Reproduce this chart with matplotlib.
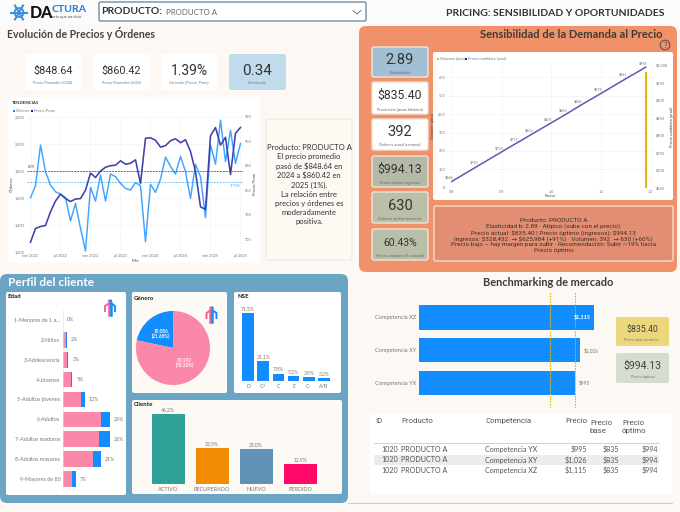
import numpy as np
import matplotlib
matplotlib.use("Agg")
import matplotlib.pyplot as plt
from matplotlib.patches import FancyBboxPatch, Circle, Rectangle

# ---------- data ----------
months = ["ene 2022", "jul 2022", "ene 2023", "jul 2023", "ene 2024", "jul 2024", "ene 2025", "jul 2025"]
orders = [1600, 1689, 1990, 1793, 1694, 1644, 1627, 1600, 1427, 1558, 1373, 1205, 1677, 1575, 1768, 1575,
          1775, 1756, 1706, 1669, 1657, 1711, 1689, 1274, 1699, 1640, 1738, 1901, 1832, 1775, 1906, 1793,
          1595, 1847, 1756, 1452, 1990, 1849, 2175, 1867, 2099, 1854, 2002]
prices = [694, 722, 726, 728, 756, 778, 792, 783, 777, 782, 783, 800, 835, 826, 839, 847, 850, 851, 860,
          853, 855, 862, 814, 906, 907, 902, 888, 891, 901, 905, 897, 903, 879, 838, 766, 761, 911, 928,
          892, 908, 832, 916, 928]
orders_mean = 1716
prices_mean = 839

kpi_top_vals = ["$848.64", "$860.42", "1.39%", "0.34"]
kpi_top_labs = ["Precio Promedio (2024)", "Precio Promedio (2025)", "Variación (Precio, Prom)", "Correlación"]
summary_text = ("Producto: PRODUCTO A\nEl precio promedio\npasó de $848.64 en\n2024 a $860.42 en\n2025 (1%).\n"
                "La relación entre\nprecios y órdenes es\nmoderadamente\npositiva.")

kpi_side_vals = ["2.89", "$835.40", "392", "$994.13", "630", "60.43%"]
kpi_side_labs = ["Elasticidad b", "Precio base (prom histórico)", "Órdenes actual (semanal)",
                 "Precio óptimo (ingresos)", "Órdenes óptimo (semanal)", "Mejora volumen (% semanal)"]
sens_factor = [0.80, 0.85, 0.90, 0.93, 0.96, 1.00, 1.03, 1.06, 1.10, 1.15, 1.19]
sens_price = [668, 710, 752, 777, 802, 835, 860, 886, 919, 961, 994]
sens_labels = ["$668", "$710", "$752", "$777", "$802", "$835", "$860", "$886", "$919", "$961", "$994"]
opt_factor = 1.19
opt_volume = 630
sens_text = ("Producto: PRODUCTO A\nElasticidad b: 2.89 · Atípico (sube con el precio)\n"
             "Precio actual: $835.40 | Precio óptimo (ingresos): $994.13\n"
             "Ingresos: $328,432  → $625,984 (+91%) · Volumen: 392  → 630 (+60%)\n"
             "Precio bajo – hay margen para subir · Recomendación: Subir ~19% hacia\nPrecio óptimo")

age_labels = ["1-Menores de 1 a...", "2-Niños", "3-Adolescencia", "4-Jóvenes", "5-Adultos jóvenes", "6-Adultos",
              "7-Adultos maduros", "8-Adultos mayores", "9-Mayores de 80"]
age_pink = [0, 1.4, 2.2, 4.2, 10.2, 20.8, 20.1, 16.6, 5.1]
age_blue = [0, 0.6, 0.8, 0.8, 1.8, 5.2, 5.9, 4.4, 1.9]
age_total = ["0%", "2%", "3%", "5%", "12%", "26%", "26%", "21%", "7%"]

gender_share = [21.68, 78.32]
gender_labels = ["19,086\n(21.68%)", "70,192\n(78.32%)"]

nse_labels = ["D", "C+", "C", "E", "C-", "A/B"]
nse_vals = [71.5, 21.1, 7.8, 5.2, 3.9, 3.2]

client_labels = ["ACTIVO", "RECUPERADO", "NUEVO", "PERDIDO"]
client_vals = [46.2, 23.5, 23.0, 12.9]
client_colors = ["#2fa198", "#f28c05", "#6092b8", "#ff0a68"]

comp_labels = ["Competencia YX", "Competencia XY", "Competencia XZ"]
comp_vals = [995, 1026, 1115]
base_price = 835.40
opt_price = 994.13

table_head = ["ID", "Producto", "Competencia", "Precio", "Precio\nbase", "Precio\nóptimo"]
table_rows = [["1020", "PRODUCTO A", "Competencia YX", "$995", "$835", "$994"],
              ["1020", "PRODUCTO A", "Competencia XY", "$1,026", "$835", "$994"],
              ["1020", "PRODUCTO A", "Competencia XZ", "$1,115", "$835", "$994"]]

# ---------- helpers ----------
W, H = 680, 512
BLUE = "#118dff"
PINK = "#fb88a8"
GREY = "#777777"
DARK = "#3a3a3a"
TITLE = "Lato"
NUM = "Roboto"
plt.rcParams["font.family"] = ["Lato", "DejaVu Sans"]

fig = plt.figure(figsize=(6.8, 5.12), dpi=100, facecolor="#fdf8f3")
bg = fig.add_axes([0, 0, 1, 1], zorder=0)
bg.set_xlim(0, W)
bg.set_ylim(H, 0)
bg.axis("off")


def card(x0, y0, x1, y1, fc="white", ec="none", r=2.0, lw=0.0, z=1):
    bg.add_patch(FancyBboxPatch((x0 + r, y0 + r), x1 - x0 - 2 * r, y1 - y0 - 2 * r,
                                boxstyle=f"round,pad={r},rounding_size={r}", fc=fc, ec=ec, lw=lw, zorder=z))


def txt(x, y, s, size=5, color=DARK, ha="left", va="center", weight="normal", family=None, z=5, **kw):
    return bg.text(x, y, s, fontsize=size, color=color, ha=ha, va=va, fontweight=weight,
                   family=family or TITLE, zorder=z, parse_math=False, **kw)


def ax_px(x0, y0, x1, y1):
    ax = fig.add_axes([x0 / W, 1 - y1 / H, (x1 - x0) / W, (y1 - y0) / H], zorder=2)
    ax.patch.set_alpha(0)
    for s in ax.spines.values():
        s.set_visible(False)
    return ax


def person(cx, cy, scale=1.0):
    h = 8 * scale
    bg.add_patch(Circle((cx - 1.0 * scale, cy - h), 1.5 * scale, fc="#f0628f", ec="none", zorder=5))
    bg.add_patch(Circle((cx + 1.0 * scale, cy - h), 1.5 * scale, fc=BLUE, ec="none", zorder=5))
    bg.plot([cx - 1.2 * scale, cx - 1.2 * scale], [cy - h + 2, cy + h], color="#f0628f", lw=1.8, zorder=5)
    bg.plot([cx + 1.0 * scale, cx + 1.0 * scale], [cy - h + 2, cy + h], color=BLUE, lw=1.8, zorder=5)
    bg.plot([cx - 1, cx - 5.5 * scale, cx - 5.5 * scale], [cy - h + 2.5, cy - 2, cy + 3], color="#f0628f", lw=1.4, zorder=5)
    bg.plot([cx + 1, cx + 5.5 * scale, cx + 5.5 * scale], [cy - h + 2.5, cy - 2, cy + 3], color=BLUE, lw=1.4, zorder=5)


# ---------- header ----------
bg.add_patch(Rectangle((0, 0), W, 25, fc="#fbfbfb", ec="none", zorder=0.5))
cx, cy = 19, 12.5
for a in np.deg2rad([0, 60, 120]):
    bg.plot([cx - 8 * np.cos(a), cx + 8 * np.cos(a)], [cy - 8 * np.sin(a), cy + 8 * np.sin(a)],
            color="#3d8fd8", lw=1.5, zorder=3)
bg.add_patch(Circle((cx, cy), 4.5, fc="none", ec="#3d8fd8", lw=1.3, zorder=3))
txt(30, 13, "DA", 11.5, "#111111", weight="black")
txt(51.5, 9.5, "CTURA", 7.5, "#2a86d8", weight="black")
txt(52, 17, "más que un dato", 3, "#555555")
card(99, 2, 366, 21, fc="white", ec="#5f7f9a", lw=0.9, r=1.5)
txt(101, 12, "PRODUCTO:", 7.5, "#333333", weight="bold")
txt(166, 12.5, "PRODUCTO A", 5.7, "#666666")
bg.plot([353, 357, 361], [10.5, 14, 10.5], color="#777777", lw=0.7, zorder=5)
txt(665, 13, "PRICING: SENSIBILIDAD Y OPORTUNIDADES", 7.5, "#333333", ha="right", weight="bold")

# ---------- panels ----------
bg.plot([348, 672], [503, 503], color="#c4c4c4", lw=0.6, zorder=0.6)
card(359, 26, 677, 272, fc="#f0916a", r=7)
card(0, 274, 348, 503, fc="#6aa5c5", r=7)
txt(7, 34, "Evolución de Precios y Órdenes", 7.6, "#444444", weight="bold")

# ---------- top KPI cards ----------
kx = [(25, 81), (93, 150), (161, 217), (229, 286)]
ksize = [7.8, 7.8, 10, 11]
kfc = ["white", "white", "white", "#c0dcec"]
for (x0, x1), v, l, s, c in zip(kx, kpi_top_vals, kpi_top_labs, ksize, kfc):
    card(x0, 54, x1, 90, fc=c)
    txt((x0 + x1) / 2, 71, v, s, "#333333", ha="center", family=NUM)
    txt((x0 + x1) / 2, 82.5, l, 2.7, "#777777", ha="center")

# ---------- trend chart ----------
card(8, 97, 260, 263)
txt(12, 103.3, "TENDENCIAS", 3.2, "#333333", weight="bold")
bg.add_patch(Rectangle((13, 109.5), 2, 2, fc=BLUE, zorder=5))
txt(16, 110.5, "Órdenes", 2.8, GREY)
bg.add_patch(Rectangle((31, 109.5), 2, 2, fc="#12239e", zorder=5))
txt(34, 110.5, "Precio Prom", 2.8, GREY)
t = np.arange(len(orders))
ax = ax_px(27, 116.7, 243, 251.7)
ax.set_xlim(-0.7, 42.5)
ax.set_ylim(1200, 2200)
ax.plot(t, orders, color="#3fa4ff", lw=1.05, zorder=3)
ax.axhline(orders_mean, color="#7cc2f5", lw=0.7, ls=(0, (2, 1)), zorder=2)
ax.set_xticks(np.arange(0, 43, 6))
ax.set_xticklabels(months, fontsize=2.8, color=GREY)
ax.set_yticks([1200, 1400, 1600, 1800, 2000, 2200])
ax.set_yticklabels(["1,200", "1,400", "1,600", "1,800", "2,000", "2,200"], fontsize=2.8, color=GREY)
ax.tick_params(length=0, pad=1.5)
ax.grid(True, color="#e9e9e9", lw=0.45, ls=(0, (1, 1)))
ax.set_xlabel("Mes", fontsize=3, color="#444444", labelpad=1)
ax.set_ylabel("Órdenes", fontsize=3, color="#444444", labelpad=1)
ax2 = ax.twinx()
ax2.patch.set_alpha(0)
for s in ax2.spines.values():
    s.set_visible(False)
ax2.set_ylim(950 - (251.7 - 116.7) * 3 * 0.68, 950)
ax2.plot(t, prices, color="#4040aa", lw=1.15, zorder=4)
ax2.axhline(prices_mean, color="#6a62b8", lw=0.7, ls=(0, (2, 1)), zorder=2)
ax2.set_yticks([700, 750, 800, 850, 900, 950])
ax2.set_yticklabels(["700", "750", "800", "850", "900", "950"], fontsize=2.8, color=GREY)
ax2.tick_params(length=0, pad=1.5)
ax2.set_ylabel("Precio Prom", fontsize=3, color="#444444", labelpad=1, rotation=90)
txt(28, 167.5, "839", 3, "#4a4aa8")
txt(241, 186, "1.71K", 3, "#3fa4ff", ha="right")

card(266, 119, 352, 260, fc="#fdfaf4", ec="#e8e4dc", lw=0.6)
txt(309, 184.5, summary_text, 5.5, "#333333", ha="center", linespacing=1.36)

# ---------- sensitivity ----------
txt(662, 34, "Sensibilidad de la Demanda al Precio", 8.0, "#3f3a36", ha="right", weight="bold")
bg.add_patch(Circle((665, 45), 4.8, fc="none", ec="#555555", lw=0.8, zorder=5))
txt(665, 45, "?", 5.5, "#555555", ha="center")
sy = [(47, 77), (82, 114), (119, 150), (156, 187), (192, 223), (229, 260)]
sfc = ["#a2bed2", "white", "white", "#b5baa6", "#b9bfa8", "#b9bfa8"]
ssize = [10.5, 8.8, 10.5, 8.8, 10.5, 7.5]
for (y0, y1), v, l, c, s in zip(sy, kpi_side_vals, kpi_side_labs, sfc, ssize):
    card(372, y0, 428, y1, fc=c, ec="#f2e4da", lw=1.0)
    txt(400, y0 + 13.5, v, s, "#333333", ha="center", family=NUM)
    txt(400, y1 - 4.5, l, 2.7, "#666666", ha="center")

card(433, 52, 673, 200)
bg.add_patch(Rectangle((437, 58), 2, 2, fc="#e8b800", zorder=5))
txt(440, 59, "Volumen (pico)", 2.7, GREY)
bg.add_patch(Rectangle((465, 58), 2, 2, fc="#12239e", zorder=5))
txt(468, 59, "Precio candidato (prod)", 2.7, GREY)
ax = ax_px(447.3, 65, 653.3, 187.7)
ax.set_xlim(0.791, 1.205)
ax.set_ylim(0, 667)
ax.vlines(opt_factor, 0, opt_volume, color="#e8b400", lw=1.4, zorder=3)
ax.set_xticks([0.8, 0.9, 1.0, 1.1, 1.2])
ax.set_xticklabels(["0.8", "0.9", "1.0", "1.1", "1.2"], fontsize=2.8, color=GREY)
ax.set_yticks([0, 100, 200, 300, 400, 500, 600])
ax.set_yticklabels(["0", "100", "200", "300", "400", "500", "600"], fontsize=2.8, color=GREY)
ax.tick_params(length=0, pad=1.5)
ax.grid(True, color="#dddddd", lw=0.45, ls=(0, (1, 1.5)))
ax.set_xlabel("Factor", fontsize=2.9, color="#444444", labelpad=0.5)
ax.set_ylabel("Volumen (pico)", fontsize=2.9, color="#444444", labelpad=2.5)
ax2 = ax.twinx()
ax2.patch.set_alpha(0)
for s in ax2.spines.values():
    s.set_visible(False)
ax2.set_ylim(650, 1000)
ax2.plot(sens_factor, sens_price, color="#5a5ab8", lw=1.1, zorder=4)
for xv, yv, lab in zip(sens_factor, sens_price, sens_labels):
    ax2.annotate(lab, (xv, yv), xytext=(-2, 2), textcoords="offset points", fontsize=2.7, color=GREY, ha="center")
ax2.set_yticks([650, 700, 750, 800, 850, 900, 950, 1000])
ax2.set_yticklabels(["$650", "$700", "$750", "$800", "$850", "$900", "$950", "$1,000"], fontsize=2.8, color=GREY)
ax2.tick_params(length=0, pad=2)
ax2.set_ylabel("Precio candidato (prod)", fontsize=2.9, color="#444444", labelpad=1)

card(434, 206, 673, 261, fc="#e38e72", ec="#f7dccd", lw=1.0)
txt(553.5, 235.5, sens_text, 4.6, "#3d3029", ha="center", linespacing=1.1, family=[NUM, "DejaVu Sans"])

# ---------- Edad ----------
txt(8, 282.5, "Perfil del cliente", 8.6, "white", weight="bold")
card(6, 292, 126, 495, fc="white")
txt(7, 296.5, "Edad", 4.4, "#222222", weight="bold")
person(110, 308, 0.9)
ax = ax_px(63, 310, 122, 489)
yy = np.arange(len(age_labels))
ax.barh(yy, age_pink, height=0.79, color=PINK)
ax.barh(yy, age_blue, left=age_pink, height=0.79, color=BLUE)
ax.set_ylim(8.5, -0.5)
ax.set_xlim(0, 59 / 1.807)
ax.set_yticks(yy)
ax.set_yticklabels(age_labels, fontsize=3.9, color=GREY)
ax.set_xticks([])
ax.tick_params(length=0, pad=2)
ax.spines["left"].set_visible(True)
ax.spines["left"].set_color("#dddddd")
ax.spines["left"].set_linewidth(0.4)
for y, p, b, l in zip(yy, age_pink, age_blue, age_total):
    ax.annotate(l, (p + b, y), xytext=(3, 0), textcoords="offset points", fontsize=3.8, color=GREY, va="center")

# ---------- Genero ----------
card(132, 292, 227, 393, fc="#fdfaf5")
txt(134, 298, "Género", 4.4, "#222222", weight="bold")
person(211.5, 315, 0.9)
ax = ax_px(133, 308, 213, 388)
wedges, pie_texts = ax.pie(gender_share, colors=[BLUE, PINK], startangle=90, counterclock=True, radius=1.0,
                           labels=gender_labels, labeldistance=0.5,
                           textprops=dict(fontsize=3.4, color="white", fontweight="bold"))
for tx in pie_texts:
    tx.set_ha("center")
    tx.set_va("center")
ax.set_xlim(-1.08, 1.08)
ax.set_ylim(-1.08, 1.08)

# ---------- NSE ----------
card(234, 292, 341, 393)
txt(237, 297, "NSE", 4.4, "#222222", weight="bold")
ax = ax_px(240.5, 305, 331.5, 381)
xx = np.arange(len(nse_labels))
ax.bar(xx, nse_vals, width=0.77, color=BLUE)
ax.set_xlim(-0.5, 5.5)
ax.set_ylim(0, 79.5)
ax.set_xticks(xx)
ax.set_xticklabels(nse_labels, fontsize=3.8, color=GREY)
ax.set_yticks([])
ax.tick_params(length=0, pad=2)
for x, v in zip(xx, nse_vals):
    ax.annotate(f"{v:.1f}%", (x, v), xytext=(0, 1.5), textcoords="offset points", fontsize=3.6, color=GREY, ha="center")

# ---------- Cliente ----------
card(132, 400, 342, 494, fc="#fdfaf5")
txt(134, 404.5, "Cliente", 4.4, "#222222", weight="bold")
ax = ax_px(146, 405, 322, 484)
xx = np.arange(len(client_labels))
ax.bar(xx, client_vals, width=0.75, color=client_colors)
ax.set_xlim(-0.5, 3.5)
ax.set_ylim(0, 79 / 70 * 46.2)
ax.set_xticks(xx)
ax.set_xticklabels(client_labels, fontsize=4.0, color=GREY)
ax.set_yticks([])
ax.tick_params(length=0, pad=2)
for x, v in zip(xx, client_vals):
    ax.annotate(f"{v:.1f}%", (x, v), xytext=(0, 1.5), textcoords="offset points", fontsize=3.6, color=GREY, ha="center")

# ---------- Benchmark ----------
txt(483, 282, "Benchmarking de mercado", 7.9, "#3f3a36", weight="bold")
card(370, 289, 673, 409, fc="#fcf8f3")
ax = ax_px(419.3, 292, 610, 408)
yy = np.arange(len(comp_labels))
ax.barh(yy, comp_vals, height=0.745, color=BLUE, zorder=2)
ax.set_xlim(0, 190.7 / 0.1566)
ax.set_ylim(-0.77, 2.78)
ax.axvline(base_price, color="#e8c000", lw=0.8, ls=(0, (1.5, 1)), zorder=3)
ax.axvline(opt_price, color="#b0b0a8", lw=0.8, ls=(0, (1.5, 1)), zorder=3)
ax.set_xticks([])
ax.set_yticks(yy)
ax.set_yticklabels(comp_labels, fontsize=4.1, color=GREY)
ax.tick_params(length=0, pad=2.2)
for y, v in zip(yy, comp_vals):
    if v == max(comp_vals):
        ax.annotate(f"${v:,}", (v, y), xytext=(-2, 0), textcoords="offset points", fontsize=3.9,
                    color="white", ha="right", va="center", weight="bold", zorder=5)
    else:
        ax.annotate(f"${v:,}", (v, y), xytext=(2.5, 0), textcoords="offset points", fontsize=3.4,
                    color=GREY, ha="left", va="center")
card(616, 317, 669, 346, fc="#ecd77c")
txt(642.5, 330, "$835.40", 6.3, "#444444", ha="center", family=NUM)
txt(642.5, 340, "Precio base (prom hi...", 2.8, "#777777", ha="center")
card(616, 353, 669, 383, fc="#d5dcd0")
txt(642.5, 366, "$994.13", 7.6, "#444444", ha="center", family=NUM)
txt(642.5, 377, "Precio óptimo", 2.8, "#777777", ha="center")

# ---------- table ----------
card(370, 414, 672, 494)
head_x = [375, 401, 485, 565, 590, 622]
for x, h in zip(head_x, table_head):
    txt(x, 421 if "\n" not in h else 427, h, 5.7, "#555555", linespacing=1.4, family=NUM)
bg.plot([374, 659], [443, 443], color="#a9d4f5", lw=0.6, zorder=4)
bg.add_patch(Rectangle((373.5, 455), 285.5, 10, fc="#ececec", ec="none", zorder=2))
col_x = [398, 401, 485, 587, 619, 658]
col_ha = ["right", "left", "left", "right", "right", "right"]
for ry, row in zip([449.5, 460, 470.5], table_rows):
    for x, ha, val in zip(col_x, col_ha, row):
        txt(x, ry, val, 5.1, "#555555", ha=ha)

fig.savefig("out.png", dpi=100, facecolor=fig.get_facecolor())
